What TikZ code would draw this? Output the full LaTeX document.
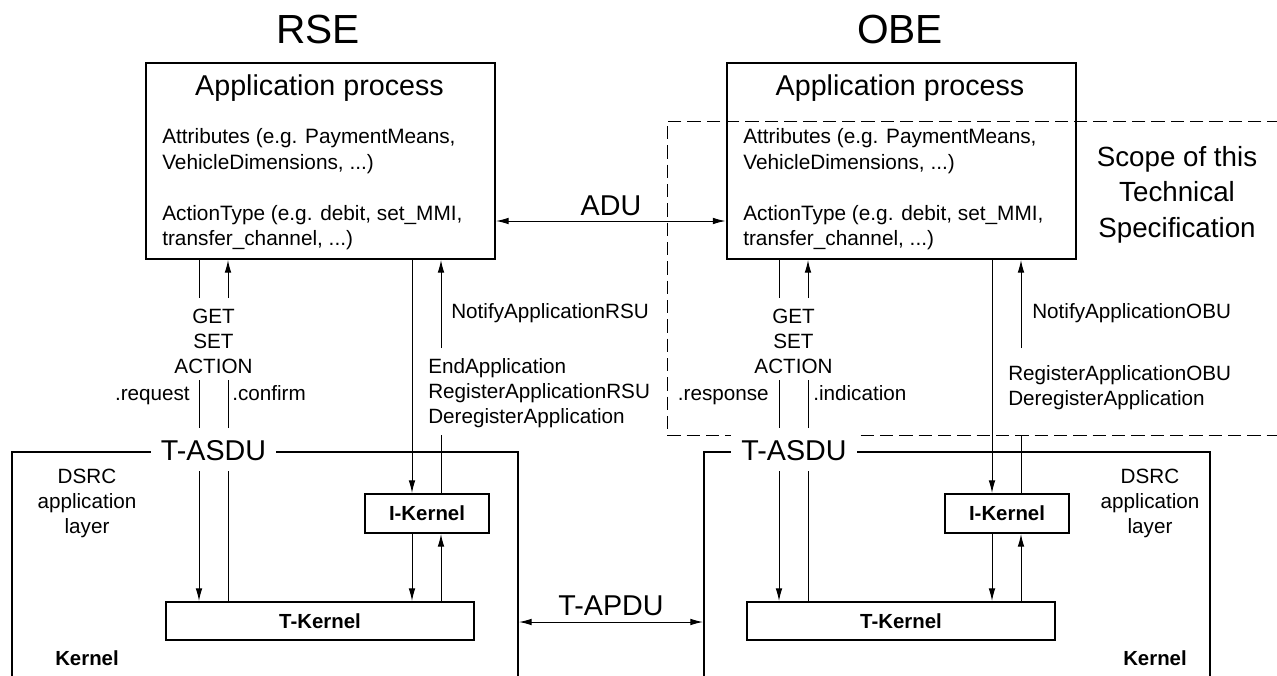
\documentclass[tikz,border=0pt]{standalone}
\usepackage{fontspec}
\setmainfont{Liberation Sans}
\usetikzlibrary{arrows.meta}
\begin{document}
\begin{tikzpicture}[x=0.75pt,y=-0.75pt,
  >={Latex[length=9.5pt,width=5pt]},
  procbox/.style={draw,line width=1.5pt,inner sep=0pt,anchor=north west,minimum width=261.75pt,minimum height=147pt},
  kernbox/.style={draw,line width=1.5pt,inner sep=0pt,anchor=north west,minimum width=379.5pt,minimum height=195pt},
  ikbox/.style={draw,line width=1.5pt,inner sep=0pt,anchor=north west,minimum width=93pt,minimum height=29.25pt,font=\fontsize{15.3}{18}\selectfont\bfseries},
  tkbox/.style={draw,line width=1.5pt,inner sep=0pt,anchor=north west,minimum width=231pt,minimum height=28.5pt,font=\fontsize{15.3}{18}\selectfont\bfseries},
  conn/.style={line width=0.75pt},
  arr/.style={line width=0.75pt,->},
  dbl/.style={line width=0.75pt,<->},
  scopeline/.style={line width=0.75pt,dash pattern=on 10pt off 4.5pt},
  title/.style={font=\fontsize{30.5}{36}\selectfont,anchor=base,inner sep=0pt},
  big/.style={font=\fontsize{21.5}{26}\selectfont,anchor=base,inner sep=0pt},
  pdu/.style={big,fill=white,inner xsep=7.5pt,inner ysep=0pt,text height=24pt,text depth=8.25pt},
  boxtxt/.style={font=\fontsize{15.6}{19.5}\selectfont,anchor=base west,inner sep=0pt},
  lbl/.style={font=\fontsize{15.5}{18.75}\selectfont,inner sep=0pt},
  kl/.style={font=\fontsize{15.3}{18}\selectfont\bfseries,inner sep=0pt,anchor=base},
  scopetxt/.style={font=\fontsize{20.8}{26.6}\selectfont,inner sep=0pt,anchor=base,align=center},
]
\useasboundingbox (0,0) rectangle (1277,675);

% ---------- titles
\node[title] (rsetitle) at (318,43) {RSE};
\node[title] (obetitle) at (900,43) {OBE};

% ---------- scope of this TS (dashed)
\draw[scopeline] (1300,121) -- (667,121) -- (667,435) -- (1300,435);
\node[scopetxt] (scope) at (1177,237) {Scope of this\\Technical\\Specification};

% ---------- application process boxes
\node[procbox] (rseapp) at (145,62) {};
\node[procbox] (obeapp) at (725.5,62) {};
\node[big] (rseaptitle) at (319.5,95) {Application process};
\node[big] (obeaptitle) at (900,95) {Application process};
\node[boxtxt] (rset1) at (162,143) {Attributes (e.g. PaymentMeans,};
\node[boxtxt] (rset2) at (162,169) {VehicleDimensions, ...)};
\node[boxtxt] (rset3) at (162,220) {ActionType (e.g. debit, set\_MMI,};
\node[boxtxt] (rset4) at (162,245) {transfer\_channel, ...)};
\node[boxtxt] (obet1) at (743,143) {Attributes (e.g. PaymentMeans,};
\node[boxtxt] (obet2) at (743,169) {VehicleDimensions, ...)};
\node[boxtxt] (obet3) at (743,220) {ActionType (e.g. debit, set\_MMI,};
\node[boxtxt] (obet4) at (743,245) {transfer\_channel, ...)};

% ADU
\coordinate (adu) at (611,221);
\draw[dbl] (rseapp.east |- adu) -- (obeapp.west |- adu);
\node[big] (adulbl) at (611,215) {ADU};

% ---------- kernel boxes
\node[kernbox] (rsekern) at (11,451) {};
\node[kernbox] (obekern) at (703,451) {};
\node[pdu] (rsetasdu) at (213.5,460) {T-ASDU};
\node[pdu] (obetasdu) at (794,460) {T-ASDU};
\node[ikbox] (rseik) at (364,493) {I-Kernel};
\node[ikbox] (obeik) at (944,493) {I-Kernel};
\node[tkbox] (rsetk) at (165,601) {T-Kernel};
\node[tkbox] (obetk) at (746,601) {T-Kernel};
\node[lbl,align=center,anchor=base] (rsedsrc) at (87,533) {DSRC\\application\\layer};
\node[lbl,align=center,anchor=base] (obedsrc) at (1150,533) {DSRC\\application\\layer};
\node[kl] (rsekl) at (87,665) {Kernel};
\node[kl] (obekl) at (1155,665) {Kernel};

% T-APDU
\coordinate (tapdu) at (611,622);
\draw[dbl] (rsekern.east |- tapdu) -- (obekern.west |- tapdu);
\node[big] (tapdulbl) at (611,615) {T-APDU};

% ---------- labels
\node[lbl,align=center,anchor=base] (rsegsa) at (213.5,373) {GET\\SET\\ACTION};
\node[lbl,anchor=base east] (rsereq) at (190,400) {.request};
\node[lbl,anchor=base west] (rseconf) at (232,400) {.confirm};
\node[lbl,anchor=base west] (rsenot) at (451,318) {NotifyApplicationRSU};
\node[lbl,anchor=base west,align=left] (rseend) at (428,423) {EndApplication\\RegisterApplicationRSU\\DeregisterApplication};

\node[lbl,align=center,anchor=base] (obegsa) at (793.5,373) {GET\\SET\\ACTION};
\node[lbl,anchor=base east] (oberesp) at (769,400) {.response};
\node[lbl,anchor=base west] (obeind) at (813,400) {.indication};
\node[lbl,anchor=base west] (obenot) at (1032,318) {NotifyApplicationOBU};
\node[lbl,anchor=base west,align=left] (obereg) at (1008,405) {RegisterApplicationOBU\\DeregisterApplication};

% ---------- RSE connectors
\coordinate (ra1) at (199,298); \coordinate (ra2) at (199,380);
\coordinate (ra3) at (199,428); \coordinate (ra4) at (199,471);
\coordinate (rb1) at (228,298); \coordinate (rb2) at (228,380);
\coordinate (rb3) at (228,428); \coordinate (rb4) at (228,471);
\coordinate (rc) at (412,300);
\coordinate (rd1) at (441,348); \coordinate (rd2) at (441,435);
\draw[conn] (rseapp.south -| ra1) -- (ra1);
\draw[conn] (ra2) -- (ra3);
\draw[arr] (ra4) -- (rsetk.north -| ra4);
\draw[conn] (rsetk.north -| rb4) -- (rb4);
\draw[conn] (rb3) -- (rb2);
\draw[arr] (rb1) -- (rseapp.south -| rb1);
\draw[arr] (rseapp.south -| rc) -- (rseik.north -| rc);
\draw[arr] (rseik.south -| rc) -- (rsetk.north -| rc);
\draw[arr] (rsetk.north -| rd1) -- (rseik.south -| rd1);
\draw[conn] (rseik.north -| rd2) -- (rd2);
\draw[arr] (rd1) -- (rseapp.south -| rd1);

% ---------- OBE connectors
\coordinate (oa1) at (779,298); \coordinate (oa2) at (779,380);
\coordinate (oa3) at (779,428); \coordinate (oa4) at (779,471);
\coordinate (ob1) at (808,298); \coordinate (ob2) at (808,380);
\coordinate (ob3) at (808,428); \coordinate (ob4) at (808,471);
\coordinate (oc) at (992,300);
\coordinate (od1) at (1021,348); \coordinate (od2) at (1021,435);
\draw[conn] (obeapp.south -| oa1) -- (oa1);
\draw[conn] (oa2) -- (oa3);
\draw[arr] (oa4) -- (obetk.north -| oa4);
\draw[conn] (obetk.north -| ob4) -- (ob4);
\draw[conn] (ob3) -- (ob2);
\draw[arr] (ob1) -- (obeapp.south -| ob1);
\draw[arr] (obeapp.south -| oc) -- (obeik.north -| oc);
\draw[arr] (obeik.south -| oc) -- (obetk.north -| oc);
\draw[arr] (obetk.north -| od1) -- (obeik.south -| od1);
\draw[conn] (obeik.north -| od2) -- (od2);
\draw[arr] (od1) -- (obeapp.south -| od1);
\end{tikzpicture}
\end{document}
